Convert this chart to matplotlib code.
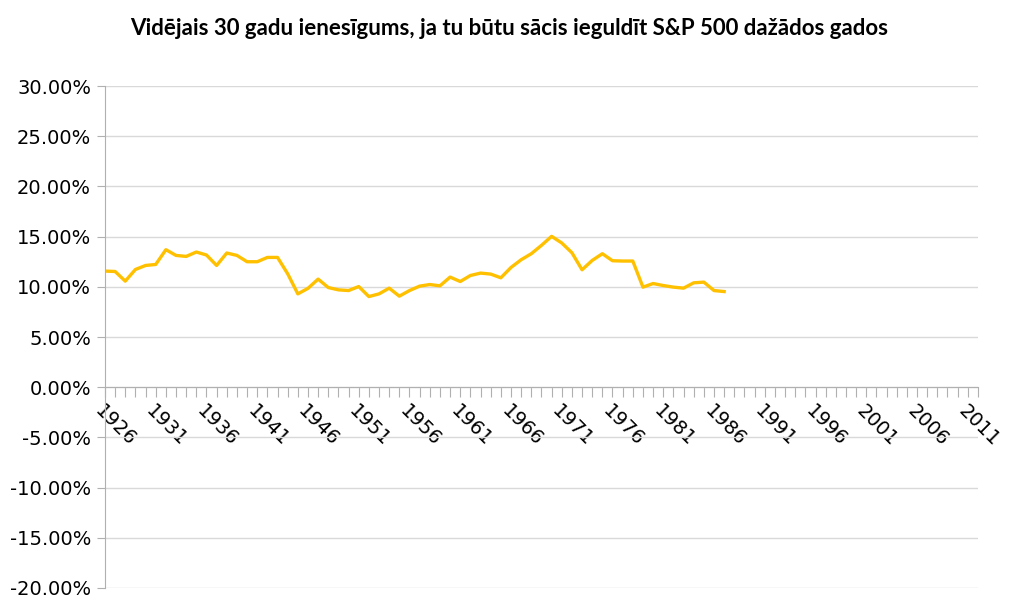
import matplotlib
matplotlib.use("Agg")
import matplotlib.pyplot as plt
import numpy as np
from matplotlib.ticker import FuncFormatter

# Gadi uz x ass (1926-2012) un vidējais 30 gadu ienesīgums (%)
years = list(range(1926, 2013))
returns = [11.57, 11.53, 10.57, 11.73, 12.13, 12.23, 13.70, 13.13, 13.03, 13.47,
           13.17, 12.13, 13.37, 13.13, 12.50, 12.50, 12.93, 12.93, 11.30, 9.30,
           9.85, 10.77, 9.93, 9.70, 9.63, 10.03, 9.03, 9.30, 9.87, 9.07,
           9.63, 10.07, 10.23, 10.10, 10.97, 10.53, 11.13, 11.37, 11.27, 10.90,
           11.93, 12.70, 13.30, 14.13, 15.03, 14.37, 13.40, 11.70, 12.63, 13.30,
           12.60, 12.57, 12.57, 9.97, 10.33, 10.13, 9.97, 9.87, 10.40, 10.47,
           9.63, 9.53]
title = "Vidējais 30 gadu ienesīgums, ja tu būtu sācis ieguldīt S&P 500 dažādos gados"

fig = plt.figure(figsize=(10.24, 6.04), dpi=100)
ax = fig.add_axes([0.1025, 0.0265, 0.8525, 0.831])

x = np.arange(len(years))
ax.plot(x[:len(returns)], returns, color="#FFC000", linewidth=2.4, solid_joinstyle="round")

ax.set_xlim(0, len(years) - 1)
ax.set_ylim(-20, 30)
ax.set_yticks(np.arange(-20, 31, 5))
ax.yaxis.set_major_formatter(FuncFormatter(lambda v, p: f"{v:.2f}%"))
ax.grid(axis="y", color="#d9d9d9", linewidth=1)
ax.set_axisbelow(True)

# x ass šķērso pie 0
ax.spines["bottom"].set_position(("data", 0))
for s in ["top", "right"]:
    ax.spines[s].set_visible(False)
ax.spines["bottom"].set_color("#b0b0b0")
ax.spines["left"].set_color("#b0b0b0")

ax.set_xticks(x)
ax.set_xticklabels([str(y) if (y - 1926) % 5 == 0 else "" for y in years],
                   rotation=-45, ha="left", va="top", rotation_mode="anchor")
ax.tick_params(axis="x", length=7, color="#b0b0b0", labelsize=14, pad=3, labelcolor="#000000")
ax.tick_params(axis="y", length=6, color="#b0b0b0", labelsize=14, pad=4, labelcolor="#000000")

fig.text(0.497, 0.953, title, ha="center", va="center", fontsize=16,
         fontweight="bold", family="Lato")

fig.savefig("out.png", dpi=100)
